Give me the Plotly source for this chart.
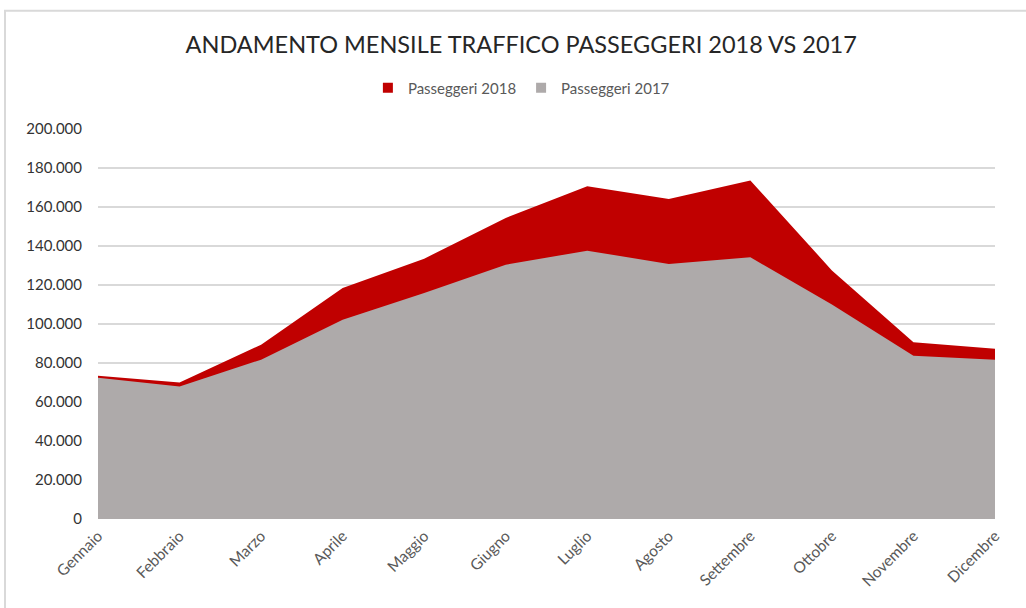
import plotly.graph_objects as go

mesi = ["Gennaio", "Febbraio", "Marzo", "Aprile", "Maggio", "Giugno",
        "Luglio", "Agosto", "Settembre", "Ottobre", "Novembre", "Dicembre"]
passeggeri_2018 = [73500, 70000, 89400, 118500, 133500, 154400,
                   170600, 164100, 173600, 127500, 90600, 87300]
passeggeri_2017 = [72500, 68000, 81700, 102200, 115900, 130400,
                   137600, 130800, 134200, 110000, 83700, 81700]
y_ticks = [0, 20000, 40000, 60000, 80000, 100000, 120000, 140000, 160000, 180000, 200000]
y_tick_labels = ["0", "20.000", "40.000", "60.000", "80.000", "100.000",
                 "120.000", "140.000", "160.000", "180.000", "200.000"]

RED = "#C00000"
GRAY = "#AEAAAA"
TXT = "#595959"
FONT = "Lato, 'Open Sans', sans-serif"

fig = go.Figure()
fig.add_trace(go.Scatter(x=mesi, y=passeggeri_2018, fill="tozeroy", mode="lines",
                         line=dict(width=0, color=RED), fillcolor=RED,
                         showlegend=False, hoverinfo="x+y", name="Passeggeri 2018"))
fig.add_trace(go.Scatter(x=mesi, y=passeggeri_2017, fill="tozeroy", mode="lines",
                         line=dict(width=0, color=GRAY), fillcolor=GRAY,
                         showlegend=False, hoverinfo="x+y", name="Passeggeri 2017"))
# legend entries
fig.add_trace(go.Scatter(x=[None], y=[None], mode="markers", name="Passeggeri 2018",
                         marker=dict(symbol="square", size=10, color=RED)))
fig.add_trace(go.Scatter(x=[None], y=[None], mode="markers", name="Passeggeri 2017",
                         marker=dict(symbol="square", size=10, color=GRAY)))

fig.update_layout(
    width=1026, height=608,
    margin=dict(l=98, r=31, t=129, b=89),
    paper_bgcolor="white", plot_bgcolor="white",
    font=dict(family=FONT, color=TXT, size=15),
    title=dict(text="ANDAMENTO MENSILE TRAFFICO PASSEGGERI 2018 VS 2017",
               x=0.508, xanchor="center", y=0.926, yanchor="middle",
               font=dict(size=23.5, color="#262626", family=FONT)),
    legend=dict(orientation="h", x=0.472, xanchor="center", y=1.105, yanchor="middle",
                font=dict(size=15, color=TXT), itemwidth=30, traceorder="normal"),
    xaxis=dict(range=[0, 11], showgrid=False, showline=False, zeroline=False,
               tickangle=-45, ticks="", tickfont=dict(size=15.5, color=TXT),
               ticklabelstandoff=4, fixedrange=True),
    yaxis=dict(range=[0, 200000], tickvals=y_ticks, ticktext=y_tick_labels,
               showgrid=True, gridcolor="#D9D9D9", gridwidth=1.5, zeroline=False,
               ticks="", ticklabelstandoff=15, tickfont=dict(size=15, color="#333333"),
               showline=False),
    shapes=[dict(type="rect", xref="paper", yref="paper",
                 x0=-0.1037, x1=1.1, y0=-0.3, y1=1.303,
                 line=dict(color="#D9D9D9", width=2), fillcolor="rgba(0,0,0,0)",
                 layer="below")],
)
fig.write_html("out.html")
